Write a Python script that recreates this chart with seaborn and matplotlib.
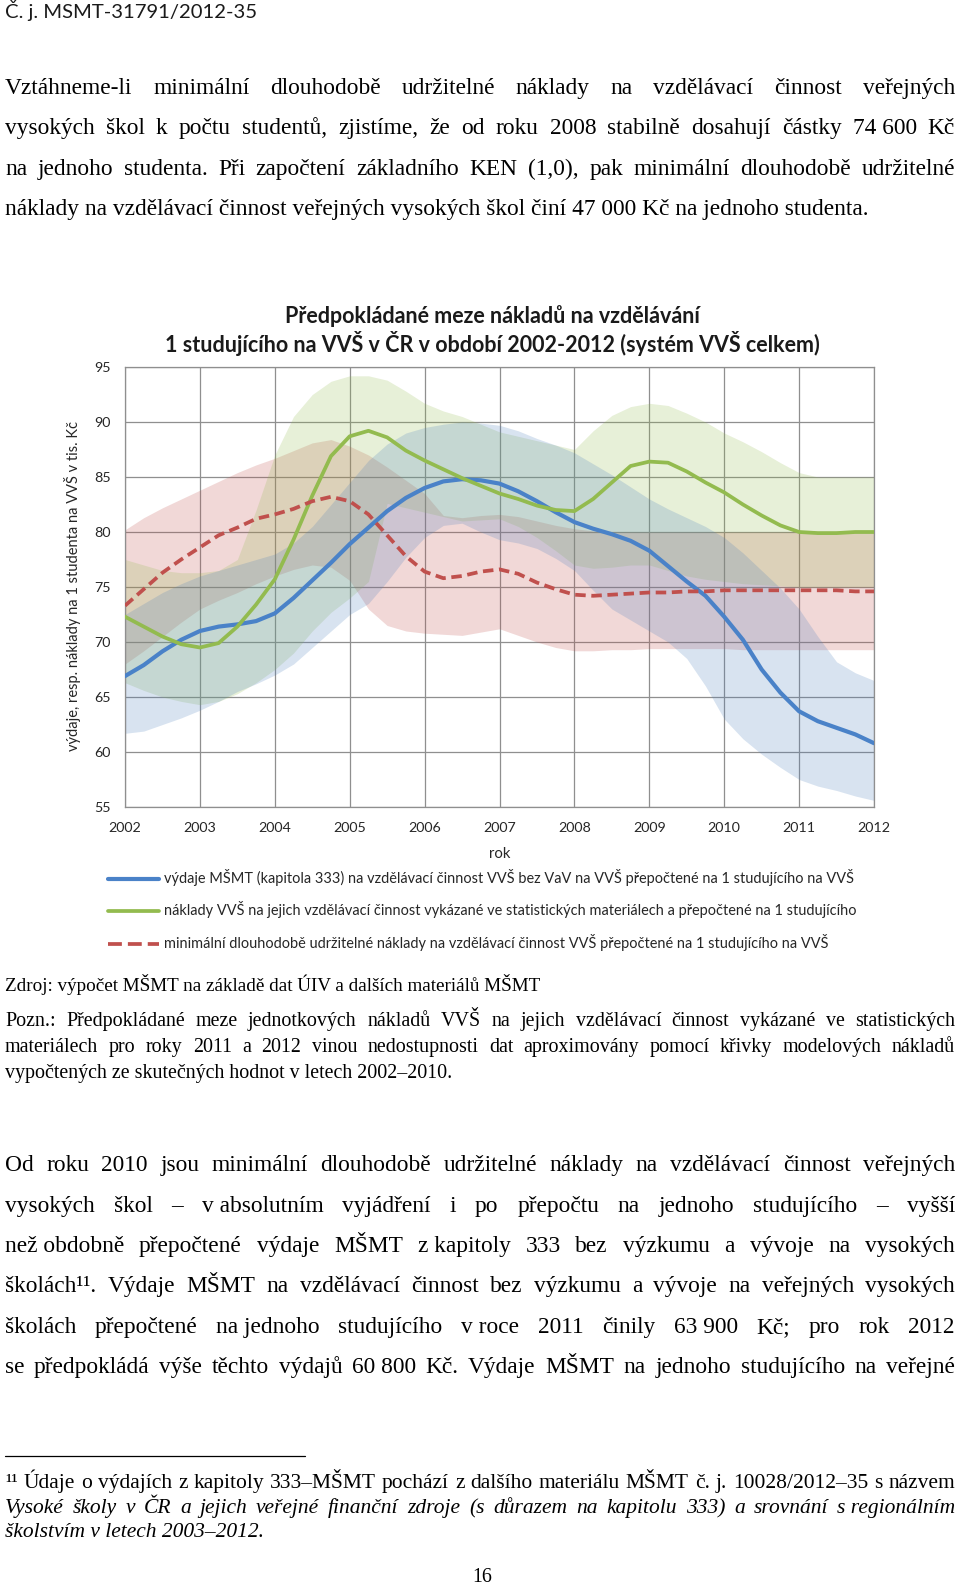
import matplotlib
matplotlib.use("Agg")

import matplotlib.pyplot as plt
from matplotlib.lines import Line2D
import seaborn as sns
import pandas as pd

# ----------------------------------------------------
# Page text
# ----------------------------------------------------
HEADER = "Č. j. MSMT-31791/2012-35"

PARA1 = [
    "Vztáhneme-li minimální dlouhodobě udržitelné náklady na vzdělávací činnost veřejných",
    "vysokých škol k počtu studentů, zjistíme, že od roku 2008 stabilně dosahují částky 74\u00a0600 Kč",
    "na jednoho studenta. Při započtení základního KEN (1,0), pak minimální dlouhodobě udržitelné",
    "náklady na vzdělávací činnost veřejných vysokých škol činí 47\u00a0000 Kč na jednoho studenta.",
]

TITLE = [
    "Předpokládané meze nákladů na vzdělávání",
    "1 studujícího na VVŠ v ČR v období 2002-2012 (systém VVŠ celkem)",
]
YLABEL = "výdaje, resp. náklady na 1 studenta na VVŠ v tis. Kč"
XLABEL = "rok"
LEGEND = [
    "výdaje MŠMT (kapitola 333) na vzdělávací činnost VVŠ bez VaV na VVŠ přepočtené na 1 studujícího na VVŠ",
    "náklady VVŠ na jejich vzdělávací činnost vykázané ve statistických materiálech a přepočtené na 1 studujícího",
    "minimální dlouhodobě udržitelné náklady na vzdělávací činnost VVŠ přepočtené na 1 studujícího na VVŠ",
]

SOURCE = "Zdroj: výpočet MŠMT na základě dat ÚIV a dalších materiálů MŠMT"
NOTE = [
    "Pozn.: Předpokládané meze jednotkových nákladů VVŠ na jejich vzdělávací činnost vykázané ve statistických",
    "materiálech pro roky 2011 a 2012 vinou nedostupnosti dat aproximovány pomocí křivky modelových nákladů",
    "vypočtených ze skutečných hodnot v letech 2002–2010.",
]

PARA2 = [
    "Od roku 2010 jsou minimální dlouhodobě udržitelné náklady na vzdělávací činnost veřejných",
    "vysokých škol – v\u00a0absolutním vyjádření i po přepočtu na jednoho studujícího – vyšší",
    "než\u00a0obdobně přepočtené výdaje MŠMT z\u00a0kapitoly 333 bez výzkumu a vývoje na vysokých",
    "školách¹¹. Výdaje MŠMT na vzdělávací činnost bez výzkumu a vývoje na veřejných vysokých",
    "školách přepočtené na\u00a0jednoho studujícího v\u00a0roce 2011 činily 63\u00a0900 Kč; pro rok 2012",
    "se předpokládá výše těchto výdajů 60\u00a0800 Kč. Výdaje MŠMT na jednoho studujícího na veřejné",
]

FOOT1 = "¹¹ Údaje o výdajích z kapitoly 333–MŠMT pochází z dalšího materiálu MŠMT č. j. 10028/2012–35 s názvem"
FOOT_IT = [
    "Vysoké školy v ČR a jejich veřejné finanční zdroje (s důrazem na kapitolu 333) a srovnání s\u00a0regionálním",
    "školstvím v letech 2003–2012.",
]
PAGE = "16"

# ----------------------------------------------------
# Chart data (quarter-year steps)
# ----------------------------------------------------
QUARTERS = [2002.0, 2002.25, 2002.5, 2002.75, 2003.0, 2003.25, 2003.5, 2003.75,
            2004.0, 2004.25, 2004.5, 2004.75, 2005.0, 2005.25, 2005.5, 2005.75,
            2006.0, 2006.25, 2006.5, 2006.75, 2007.0, 2007.25, 2007.5, 2007.75,
            2008.0, 2008.25, 2008.5, 2008.75, 2009.0, 2009.25, 2009.5, 2009.75,
            2010.0, 2010.25, 2010.5, 2010.75, 2011.0, 2011.25, 2011.5, 2011.75,
            2012.0]

MSMT = [66.9, 67.9, 69.15, 70.2, 71.0, 71.4, 71.6, 71.9,
        72.6, 74.0, 75.6, 77.2, 78.9, 80.4, 81.9, 83.1,
        84.0, 84.6, 84.8, 84.7, 84.4, 83.7, 82.8, 81.8,
        80.9, 80.3, 79.8, 79.2, 78.3, 76.9, 75.5, 74.2,
        72.3, 70.2, 67.5, 65.4, 63.7, 62.8, 62.2, 61.6,
        60.8]

VVS = [72.3, 71.4, 70.5, 69.8, 69.5, 69.9, 71.4, 73.4,
       75.7, 79.3, 83.3, 86.9, 88.7, 89.2, 88.6, 87.4,
       86.5, 85.7, 84.9, 84.2, 83.5, 83.0, 82.4, 82.0,
       81.9, 83.0, 84.5, 86.0, 86.4, 86.3, 85.5, 84.5,
       83.6, 82.5, 81.5, 80.6, 80.0, 79.9, 79.9, 80.0,
       80.0]

MINIMUM = [73.3, 74.8, 76.3, 77.5, 78.6, 79.7, 80.4, 81.2,
           81.6, 82.1, 82.8, 83.2, 82.8, 81.6, 79.7, 77.8,
           76.4, 75.8, 76.0, 76.4, 76.6, 76.2, 75.4, 74.8,
           74.3, 74.2, 74.3, 74.4, 74.5, 74.5, 74.6, 74.6,
           74.7, 74.7, 74.7, 74.7, 74.7, 74.7, 74.7, 74.6,
           74.6]

# bands (estimated ranges)
MSMT_HI = [72.5, 73.5, 74.5, 75.3, 76.0, 76.5, 77.0, 77.5,
           78.0, 79.0, 80.5, 82.5, 84.5, 86.5, 88.0, 89.0,
           89.5, 89.8, 90.0, 89.9, 89.7, 89.2, 88.5, 87.9,
           87.2, 86.2, 85.2, 84.1, 83.0, 82.1, 81.3, 80.5,
           79.5, 78.1, 76.5, 74.9, 73.0, 70.5, 68.2, 67.2,
           66.5]
MSMT_LO = [61.7, 61.9, 62.5, 63.1, 63.8, 64.6, 65.5, 66.2,
           67.0, 68.0, 69.5, 71.0, 72.5, 73.5, 75.5, 77.7,
           79.5, 80.6, 80.8, 80.0, 79.3, 79.0, 78.5, 77.6,
           76.5, 74.7, 73.0, 72.0, 71.0, 70.0, 68.5, 66.0,
           63.0, 61.2, 59.8, 58.6, 57.5, 56.9, 56.5, 56.0,
           55.6]

VVS_HI = [77.5, 77.0, 76.5, 76.3, 76.3, 76.5, 77.5, 82.0,
          87.0, 90.5, 92.5, 93.7, 94.2, 94.2, 93.8, 92.8,
          91.7, 91.0, 90.5, 89.8, 89.1, 88.7, 88.3, 87.9,
          87.5, 89.2, 90.6, 91.4, 91.7, 91.5, 90.8, 90.0,
          89.0, 88.2, 87.3, 86.3, 85.4, 85.0, 85.0, 85.0,
          85.0]
VVS_LO = [66.3, 65.6, 65.0, 64.6, 64.3, 64.6, 65.3, 66.3,
          67.5, 69.0, 71.0, 72.7, 74.0, 75.5, 82.6, 82.2,
          81.8, 81.4, 81.0, 81.1, 81.2, 80.5, 79.5, 78.3,
          77.0, 76.7, 76.8, 77.0, 77.0, 76.5, 76.0, 75.7,
          75.5, 75.3, 75.2, 75.1, 75.0, 75.0, 75.0, 75.0,
          75.0]

MIN_HI = [80.2, 81.3, 82.2, 83.0, 83.8, 84.6, 85.4, 86.1,
          86.7, 87.4, 88.1, 88.4, 87.8, 87.0, 85.9, 84.7,
          83.5, 81.5, 81.3, 81.5, 81.6, 81.4, 81.0, 80.6,
          80.3, 80.1, 80.0, 80.0, 80.0, 80.0, 80.0, 80.0,
          80.0, 80.0, 80.0, 80.0, 80.0, 80.0, 80.0, 80.0,
          80.0]
MIN_LO = [68.0, 69.2, 70.5, 71.8, 73.0, 73.8, 74.5, 75.3,
          76.0, 76.6, 77.0, 76.8, 75.6, 73.0, 71.5, 71.0,
          70.8, 70.7, 70.6, 70.9, 71.2, 70.6, 70.0, 69.5,
          69.2, 69.2, 69.3, 69.3, 69.4, 69.4, 69.4, 69.4,
          69.4, 69.3, 69.3, 69.3, 69.3, 69.3, 69.3, 69.3,
          69.3]

YEARS = list(range(2002, 2013))
Y_TICKS = list(range(55, 96, 5))

BLUE = "#4a82c8"
GREEN = "#93bb4f"
RED = "#c0504d"

# ----------------------------------------------------
# Figure set-up
# ----------------------------------------------------
W, H = 960, 1585
SANS = "Lato"
SERIF = "Liberation Serif"

sns.set_style("white")
plt.rcParams["font.family"] = [SANS, "DejaVu Sans"]

fig = plt.figure(figsize=(W / 100, H / 100), dpi=100)
renderer = fig.canvas.get_renderer()


def fx(x):
    return x / W


def fy(y):
    return 1 - y / H


def width_px(s, size, **kw):
    t = fig.text(0, 0, s, fontsize=size, **kw)
    w = t.get_window_extent(renderer).width
    t.remove()
    return w


def fit(s, target, **kw):
    return 10.0 * target / width_px(s, 10.0, **kw)


def put_line(y, s, size, justify=False, x0=5, x1=955, **kw):
    # y is the visual middle of the line in page pixels
    base = fy(y + 0.3 * size * 100 / 72)
    if not justify:
        fig.text(fx(x0), base, s, fontsize=size, va="baseline", **kw)
        return
    words = s.split(" ")
    widths = [width_px(w, size, **kw) for w in words]
    gap = (x1 - x0 - sum(widths)) / (len(words) - 1)
    x = x0
    for w, wd in zip(words, widths):
        fig.text(fx(x), base, w, fontsize=size, va="baseline", **kw)
        x += wd + gap


# ----------------------------------------------------
# Text above the chart
# ----------------------------------------------------
header_size = fit(HEADER, 252, family=SANS)
put_line(12, HEADER, header_size, color="#1a1a1a", family=SANS)

body = dict(family=SERIF, color="black")
body_size = fit(PARA1[-1], 866, **body)
for i, (yy, s) in enumerate(zip([87, 127, 168, 208], PARA1)):
    put_line(yy, s, body_size, justify=i < 3, **body)

# ----------------------------------------------------
# Chart
# ----------------------------------------------------
ax = fig.add_axes([fx(125), fy(807), (874 - 125) / W, (807 - 367) / H])

for hi, lo, col in [(MIN_HI, MIN_LO, RED), (VVS_HI, VVS_LO, GREEN), (MSMT_HI, MSMT_LO, "#4F81BD")]:
    ax.fill_between(QUARTERS, lo, hi, color=col, alpha=0.22, lw=0, zorder=2)

lines = pd.DataFrame({"rok": QUARTERS, "msmt": MSMT, "vvs": VVS, "min": MINIMUM})
sns.lineplot(data=lines, x="rok", y="msmt", ax=ax, color=BLUE, lw=3.0, zorder=5)
sns.lineplot(data=lines, x="rok", y="vvs", ax=ax, color=GREEN, lw=2.7, zorder=5)
sns.lineplot(data=lines, x="rok", y="min", ax=ax, color=RED, lw=2.7, zorder=5)
ax.get_lines()[-1].set_linestyle((0, (2.8, 1.5)))

ax.set_xlim(2002, 2012)
ax.set_ylim(55, 95)
ax.set_xticks(YEARS)
ax.set_yticks(Y_TICKS)
ax.grid(True, color="#8f8f8f", lw=0.9, zorder=0)
ax.set_axisbelow(True)
for sp in ax.spines.values():
    sp.set_color("#8f8f8f")
    sp.set_linewidth(0.9)

tick_size = fit("2002", 33, family=SANS)
ax.tick_params(axis="both", length=0, labelsize=tick_size, labelcolor="#262626")
ax.tick_params(axis="y", pad=10.5)
ax.tick_params(axis="x", pad=10.5)

ylabel_size = fit(YLABEL, 330, family=SANS)
ax.set_ylabel(YLABEL, fontsize=ylabel_size, color="#262626")
ax.yaxis.set_label_coords(-0.0587, 0.502)
ax.set_xlabel(XLABEL, fontsize=tick_size * 1.05, color="#262626")
ax.xaxis.set_label_coords(0.5, -0.09)

title_size = fit(TITLE[1], 657, family=SANS, weight="bold")
for yy, s in zip([317, 346], TITLE):
    fig.text(fx(492), fy(yy + 0.3 * title_size * 100 / 72), s, fontsize=title_size,
             weight="bold", ha="center", va="baseline", color="#1a1a1a")

# legend below the chart
legend_size = fit(LEGEND[0], 688, family=SANS)
plotted = ax.get_lines()[-3:]
for yy, s, ln in zip([879, 911, 944], LEGEND, plotted):
    key = Line2D([fx(108), fx(159)], [fy(yy), fy(yy)], transform=fig.transFigure,
                 color=ln.get_color(), lw=ln.get_linewidth(), linestyle=ln.get_linestyle())
    fig.add_artist(key)
    put_line(yy, s, legend_size, x0=164, color="#262626", family=SANS)

# ----------------------------------------------------
# Text below the chart
# ----------------------------------------------------
src_size = fit(SOURCE, 538, **body)
put_line(985, SOURCE, src_size, **body)

note_size = fit(NOTE[-1], 449, **body)
for i, (yy, s) in enumerate(zip([1020, 1046, 1072], NOTE)):
    put_line(yy, s, note_size, justify=i < 2, **body)

for yy, s in zip([1164, 1205, 1245, 1285, 1326, 1366], PARA2):
    put_line(yy, s, body_size, justify=True, **body)

fig.add_artist(Line2D([fx(5), fx(305)], [fy(1456), fy(1456)], transform=fig.transFigure,
                      color="black", lw=0.9))

foot_size = fit(FOOT_IT[-1], 260, style="italic", **body)
put_line(1482, FOOT1, foot_size, justify=True, **body)
put_line(1507, FOOT_IT[0], foot_size, justify=True, style="italic", **body)
put_line(1531, FOOT_IT[1], foot_size, style="italic", **body)

fig.text(fx(482), fy(1576 + 0.3 * note_size * 100 / 72), PAGE, fontsize=note_size,
         ha="center", va="baseline", **body)

fig.savefig("out.png", dpi=100, facecolor="white")
